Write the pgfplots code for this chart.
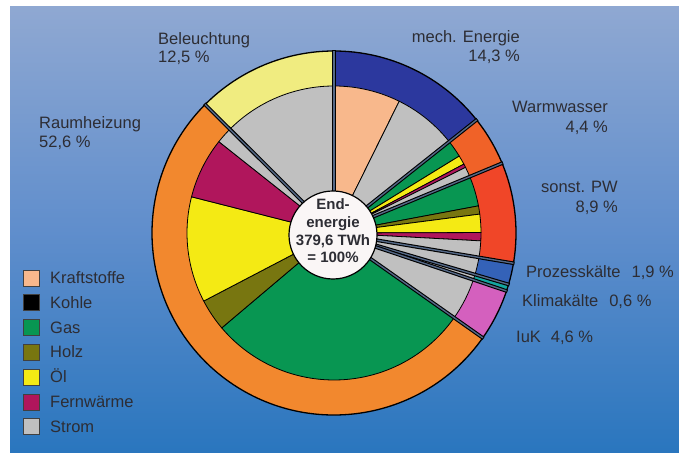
\documentclass[border=0pt]{standalone}
\usepackage{pgfplots}
\pgfplotsset{compat=1.18}
\usepackage{pgfplotstable}
\usepackage{fontspec}
\setmainfont{Liberation Sans}

% inner (energy carrier) colours
\definecolor{cKraft}{RGB}{248,184,140}
\definecolor{cKohle}{RGB}{0,0,0}
\definecolor{cGas}{RGB}{8,150,82}
\definecolor{cHolz}{RGB}{120,118,16}
\definecolor{cOel}{RGB}{244,234,20}
\definecolor{cFW}{RGB}{176,22,92}
\definecolor{cStrom}{RGB}{192,192,192}
% outer (application) colours
\definecolor{oMech}{RGB}{44,56,158}
\definecolor{oWW}{RGB}{240,98,40}
\definecolor{oPW}{RGB}{240,70,40}
\definecolor{oPK}{RGB}{52,98,184}
\definecolor{oKK}{RGB}{20,166,160}
\definecolor{oIuK}{RGB}{212,96,190}
\definecolor{oRH}{RGB}{242,136,46}
\definecolor{oBel}{RGB}{240,236,128}
% others
\definecolor{bgTop}{RGB}{143,168,210}
\definecolor{bgMid}{RGB}{96,142,204}
\definecolor{bgBot}{RGB}{42,118,190}
\definecolor{sepcol}{RGB}{84,104,134}
\definecolor{txt}{RGB}{45,45,52}
\definecolor{circfill}{RGB}{250,246,246}

% application shares (percent), clockwise from 12 o'clock
\pgfplotstableread{
value color
14.3 oMech
4.4  oWW
8.9  oPW
1.9  oPK
0.6  oKK
4.6  oIuK
52.6 oRH
12.5 oBel
}\outerdata

% energy carriers within each application (percent of total)
\pgfplotstableread{
value color
7.3  cKraft
7.0  cStrom
1.9  cGas
1.0  cOel
0.4  cFW
1.1  cStrom
3.3  cGas
0.9  cHolz
2.0  cOel
0.9  cFW
1.8  cStrom
1.9  cStrom
0.6  cStrom
4.6  cStrom
29.0 cGas
3.5  cHolz
11.6 cOel
6.7  cFW
1.8  cStrom
12.5 cStrom
}\innerdata

\newcommand\drawpie[3]{%
  \pgfplotstablegetrowsof{#1}%
  \pgfmathtruncatemacro\nrows{\pgfplotsretval-1}%
  \def\angA{90}%
  \pgfplotsforeachungrouped \i in {0,...,\nrows}{%
    \pgfplotstablegetelem{\i}{value}\of{#1}\let\val\pgfplotsretval
    \pgfplotstablegetelem{\i}{color}\of{#1}\let\col\pgfplotsretval
    \pgfmathsetmacro\angB{\angA-\val/99.8*360}%
    \edef\tmp{\noexpand\filldraw[fill=\col, draw=black, line width=#3, line join=round]
      (axis cs:0,0) -- (axis cs:{#2*cos(\angA)},{#2*sin(\angA)})
      arc[start angle=\angA, end angle=\angB, radius=#2pt] -- cycle;}%
    \tmp
    \let\angA\angB
  }%
}
\newcommand\drawseps[2]{%
  \pgfplotstablegetrowsof{#1}%
  \pgfmathtruncatemacro\nrows{\pgfplotsretval-1}%
  \def\angA{90}%
  \pgfplotsforeachungrouped \i in {0,...,\nrows}{%
    \pgfplotstablegetelem{\i}{value}\of{#1}\let\val\pgfplotsretval
    \pgfmathsetmacro\angB{\angA-\val/99.8*360}%
    \edef\tmp{\noexpand\draw[black, line width=3.6pt]
      (axis cs:0,0) -- (axis cs:{(#2+1)*cos(\angA)},{(#2+1)*sin(\angA)});
      \noexpand\draw[sepcol, line width=1.4pt]
      (axis cs:0,0) -- (axis cs:{(#2)*cos(\angA)},{(#2)*sin(\angA)});}%
    \tmp
    \let\angA\angB
  }%
}

\begin{document}
\begin{tikzpicture}
\begin{axis}[
  x=1pt, y=1pt,
  xmin=-334, xmax=345, ymin=-219, ymax=233,
  hide axis, clip=false,
]
% page background and gradient panel
\fill[white] (axis cs:-334,-219) rectangle (axis cs:345,233);
\shade[top color=bgTop, bottom color=bgBot, middle color=bgMid]
  (axis cs:-324,-219) rectangle (axis cs:345,226);

% outer ring (applications), inner pie (carriers), group separators
\drawpie{\outerdata}{182}{1.3pt}
\drawpie{\innerdata}{147}{0.8pt}
\drawseps{\outerdata}{182}

% centre disc
\filldraw[fill=circfill, draw=black, line width=1.2pt] (axis cs:-1,-2) circle[radius=44pt];
\node[align=center, text=txt, inner sep=0pt, font=\bfseries\fontsize{15}{17.6}\selectfont]
  at (axis cs:-1,2) {End-\\energie\\379,6 TWh\\= 100\%};

% labels
\begin{scope}[every node/.style={inner sep=0pt, text=txt, font=\fontsize{16.5}{18}\selectfont}]
\node[anchor=base west] at (axis cs:-176,188) {Beleuchtung};
\node[anchor=base west] at (axis cs:-176,170) {12,5 \%};
\node[anchor=base east] at (axis cs:186,190) {mech. Energie};
\node[anchor=base east] at (axis cs:186,171) {14,3 \%};
\node[anchor=base east] at (axis cs:274,120) {Warmwasser};
\node[anchor=base east] at (axis cs:274,100) {4,4 \%};
\node[anchor=base east] at (axis cs:284,40) {sonst. PW};
\node[anchor=base east] at (axis cs:284,20) {8,9 \%};
\node[anchor=base west] at (axis cs:192,-45) {Prozesskälte\hspace{11pt}1,9 \%};
\node[anchor=base west] at (axis cs:188,-74) {Klimakälte\hspace{11pt}0,6 \%};
\node[anchor=base west] at (axis cs:182,-110) {IuK\hspace{10pt}4,6 \%};
\node[anchor=base west] at (axis cs:-295,104) {Raumheizung};
\node[anchor=base west] at (axis cs:-295,85) {52,6 \%};
\end{scope}

% legend
\begin{scope}[every node/.style={inner sep=0pt, text=txt, font=\fontsize{16.5}{18}\selectfont, anchor=base west}]
\foreach \c/\t [count=\k from 0] in {cKraft/Kraftstoffe, cKohle/Kohle, cGas/Gas, cHolz/Holz, cOel/Öl, cFW/Fernwärme, cStrom/Strom}{
  \edef\tmp{\noexpand\filldraw[fill=\c, draw=black!75, line width=0.9pt]
    (axis cs:-311,{233-278-24.8*\k-8}) rectangle (axis cs:-295,{233-278-24.8*\k+8});
    \noexpand\node at (axis cs:-284,{233-278-24.8*\k-5.5}) {\t};}
  \tmp
}
\end{scope}
\end{axis}
\pgfresetboundingbox
\useasboundingbox (current axis.south west) rectangle (current axis.north east);
\end{tikzpicture}
\end{document}
